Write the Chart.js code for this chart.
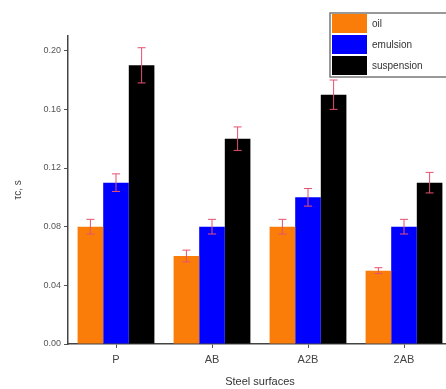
<!DOCTYPE html>
<html>
<head>
<meta charset="utf-8">
<script src="https://cdn.jsdelivr.net/npm/chart.js@4/dist/chart.umd.min.js"></script>
<style>
html,body{margin:0;padding:0;background:#fff;overflow:hidden;width:446px;height:389px;}
#wrap{position:absolute;left:0;top:0;width:460px;height:389px;}
</style>
</head>
<body>
<div id="wrap"><canvas id="c" width="460" height="389"></canvas></div>
<script>
const categories = ['P', 'AB', 'A2B', '2AB'];
const seriesNames = ['oil', 'emulsion', 'suspension'];
const oilValues = [0.080, 0.060, 0.080, 0.050];
const emulsionValues = [0.110, 0.080, 0.100, 0.080];
const suspensionValues = [0.190, 0.140, 0.170, 0.110];
const oilErrors = [0.005, 0.004, 0.005, 0.002];
const emulsionErrors = [0.006, 0.005, 0.006, 0.005];
const suspensionErrors = [0.012, 0.008, 0.010, 0.007];
const yTicks = [0.00, 0.04, 0.08, 0.12, 0.16, 0.20];

const colors = ['#FA7D0A', '#0000FF', '#000000'];

const errorBarPlugin = {
  id: 'errorBars',
  afterDatasetsDraw(chart) {
    const ctx = chart.ctx;
    const y = chart.scales.y;
    ctx.save();
    ctx.strokeStyle = '#E8506E';
    ctx.lineWidth = 1;
    chart.data.datasets.forEach((ds, di) => {
      const meta = chart.getDatasetMeta(di);
      meta.data.forEach((bar, i) => {
        const v = ds.data[i], e = ds.errors[i];
        const yt = y.getPixelForValue(v + e);
        const yb = y.getPixelForValue(v - e);
        const x = bar.x;
        ctx.beginPath();
        ctx.moveTo(x, yb); ctx.lineTo(x, yt);
        ctx.moveTo(x - 4, yt); ctx.lineTo(x + 4, yt);
        ctx.moveTo(x - 4, yb); ctx.lineTo(x + 4, yb);
        ctx.stroke();
      });
    });
    ctx.restore();
  }
};

const boxLegendPlugin = {
  id: 'boxLegend',
  afterDraw(chart) {
    const ctx = chart.ctx;
    ctx.save();
    const bx = 330, by = 13, bw = 140, bh = 64;
    ctx.fillStyle = '#fff';
    ctx.fillRect(bx, by, bw, bh);
    ctx.strokeStyle = '#777';
    ctx.lineWidth = 1.5;
    ctx.strokeRect(bx, by, bw, bh);
    chart.data.datasets.forEach((ds, i) => {
      ctx.fillStyle = ds.backgroundColor;
      ctx.fillRect(bx + 2, by + 1 + i * 21, 35, 19);
      ctx.fillStyle = '#333';
      ctx.font = '10px "Liberation Sans", Arial, sans-serif';
      ctx.textBaseline = 'middle';
      ctx.fillText(ds.label, bx + 42, by + 11 + i * 21);
    });
    ctx.restore();
  }
};

new Chart(document.getElementById('c'), {
  type: 'bar',
  data: {
    labels: categories,
    datasets: [
      { label: seriesNames[0], data: oilValues, errors: oilErrors, backgroundColor: colors[0] },
      { label: seriesNames[1], data: emulsionValues, errors: emulsionErrors, backgroundColor: colors[1] },
      { label: seriesNames[2], data: suspensionValues, errors: suspensionErrors, backgroundColor: colors[2] }
    ]
  },
  options: {
    responsive: false,
    animation: false,
    devicePixelRatio: 1,
    layout: { padding: { top: 36, right: 8, left: 0, bottom: 0 } },
    datasets: { bar: { categoryPercentage: 0.8, barPercentage: 1.0, borderWidth: 0 } },
    plugins: { legend: { display: false }, tooltip: { enabled: false }, title: { display: false } },
    scales: {
      x: {
        grid: { display: true, offset: false, drawOnChartArea: false, drawTicks: true, tickLength: 4, color: '#555' },
        border: { display: true, color: '#444', width: 1.5 },
        ticks: { color: '#444', font: { size: 11, family: '"Liberation Sans", Arial, sans-serif' }, padding: 5 },
        title: { display: true, text: 'Steel surfaces', color: '#333', font: { size: 11, family: '"Liberation Sans", Arial, sans-serif' }, padding: { top: 1, bottom: 0 } },
        afterFit(scale) { scale.height = 45; }
      },
      y: {
        min: 0, max: 0.21,
        afterBuildTicks(scale) { scale.ticks = yTicks.map(v => ({ value: v })); },
        grid: { display: true, drawOnChartArea: false, drawTicks: true, tickLength: 4, color: '#555' },
        border: { display: true, color: '#444', width: 1.5 },
        ticks: { color: '#555', font: { size: 9, family: '"Liberation Sans", Arial, sans-serif' }, padding: 3,
                 callback: (v) => Number(v).toFixed(2) },
        title: { display: true, text: 'τc, s', color: '#444', font: { size: 10, family: '"Liberation Sans", Arial, sans-serif' }, padding: { top: 12, bottom: 0 } },
        afterFit(scale) { scale.width = 68; }
      }
    }
  },
  plugins: [errorBarPlugin, boxLegendPlugin]
});
</script>
</body>
</html>
